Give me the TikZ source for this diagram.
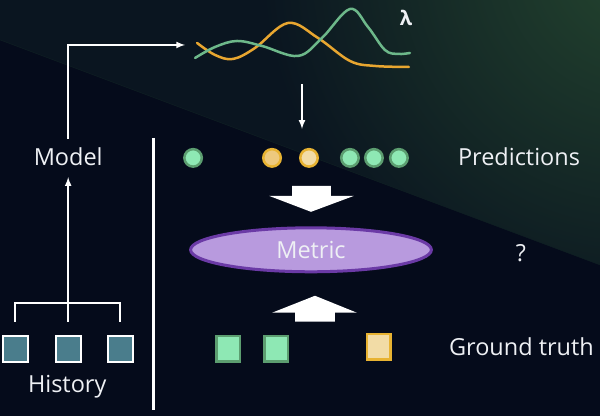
\documentclass[tikz,border=0pt]{standalone}
\usepackage{fontspec}
\setmainfont{Open Sans}
\usetikzlibrary{shapes.geometric}

\definecolor{bgnavy}{HTML}{050B1B}
\definecolor{bgmid}{HTML}{0A1520}
\definecolor{bggreen}{HTML}{24452F}
\definecolor{txt}{HTML}{EEF0F4}
\definecolor{dotgreen}{HTML}{8EE8B4}
\definecolor{dotgreenline}{HTML}{5C9E70}
\definecolor{dotyellow}{HTML}{EDC97E}
\definecolor{dotyellowlight}{HTML}{F2DCA6}
\definecolor{dotyellowline}{HTML}{E8B332}
\definecolor{metricfill}{HTML}{B89ADE}
\definecolor{metricline}{HTML}{6B3AA6}
\definecolor{histteal}{HTML}{4A7D8C}
\definecolor{curvegreen}{HTML}{6DB88A}
\definecolor{curveorange}{HTML}{E8A630}

\tikzset{
  txtlabel/.style={text=txt, font=\fontsize{23.5}{28}\selectfont, inner sep=3pt},
  wire/.style={draw=white, line width=2pt},
  pdot/.style={circle, draw=dotgreenline, fill=dotgreen, line width=2.5pt, minimum size=17.5pt, inner sep=0pt},
  ydot/.style={pdot, draw=dotyellowline, fill=dotyellow},
  gtbox/.style={rectangle, draw=dotgreenline, fill=dotgreen, line width=2.5pt, minimum width=23.5pt, minimum height=25.5pt, inner sep=0pt},
  histbox/.style={rectangle, draw=white, fill=histteal, line width=2pt, minimum width=25pt, minimum height=26pt, inner sep=0pt},
}

\begin{document}
\begin{tikzpicture}[x=1pt, y=-1pt, >=latex]
  % fond
  \fill[bgnavy] (0,0) rectangle (600,416);
  \begin{scope}
    \clip (0,0) -- (600,0) -- (600,265) -- (0,40) -- cycle;
    \fill[bgmid] (0,0) rectangle (600,265);
    \shade[inner color=bggreen, outer color=bgmid] (640,-40) circle (380);
  \end{scope}
  \draw[bgmid!80!bggreen, line width=0.5pt] (0,40) -- (600,265);
  \useasboundingbox (0,0) rectangle (600,416);

  % courbes d'intensite
  \draw[curveorange, line width=2.5pt, line cap=round] plot[smooth, tension=0.6] coordinates
    {(197,43) (215,55) (233,59) (255,48) (288,23) (318,38) (350,61) (375,66) (409,67)};
  \draw[curvegreen, line width=2.5pt, line cap=round] plot[smooth, tension=0.6] coordinates
    {(195,58) (215,47) (237,41) (262,46) (298,56) (322,38) (350,9) (368,27) (385,50) (398,54) (410,53)};
  \node[text=txt, font=\fontsize{20}{24}\selectfont\bfseries] (lambda) at (406,18) {λ};
  \coordinate (curvein) at (185,45);
  \coordinate (curveout) at (302,84);
  \coordinate (predtop) at (302,129);

  % separateur
  \draw[white, line width=3pt] (153,138) -- (153,410);

  % historique et modele
  \node[txtlabel] (model) at (68,157) {Model};
  \node[histbox] (h1) at (15,349) {};
  \node[histbox] (h2) at (68,349) {};
  \node[histbox] (h3) at (120,349) {};
  \node[txtlabel] (history) at (67,387) {History};
  \coordinate (fork) at (68,303);
  \draw[wire] ([yshift=13pt]h1.north) |- (fork) -| ([yshift=13pt]h3.north);
  \draw[wire, ->] ([yshift=13pt]h2.north) -- ([yshift=-8pt]model.south);
  \draw[wire, ->] ([yshift=6pt]model.north) |- (curvein);
  \draw[wire, ->] (curveout) -- (predtop);

  % predictions
  \node[pdot] (p1) at (193,158) {};
  \node[ydot] (p2) at (272,158) {};
  \node[ydot, fill=dotyellowlight] (p3) at (309,158) {};
  \node[pdot] (p4) at (350,158) {};
  \node[pdot] (p5) at (374,158) {};
  \node[pdot] (p6) at (399,158) {};
  \node[txtlabel, anchor=west] (predictions) at (455,157) {Predictions};

  % metrique
  \fill[white] (292,186) -- (331,186) -- (331,196) -- (354,196) -- (311,212) -- (269,196) -- (292,196) -- cycle;
  \node[txtlabel, ellipse, draw=metricline, fill=metricfill, line width=3pt, minimum width=241pt, minimum height=44pt] (metric) at (311,250) {Metric};
  \node[txtlabel] (question) at (521,253) {?};
  \fill[white] (315,296) -- (357,313) -- (335,313) -- (335,322) -- (295,322) -- (295,313) -- (272,313) -- cycle;

  % verite terrain
  \node[gtbox] (g1) at (228,349) {};
  \node[gtbox] (g2) at (276,349) {};
  \node[gtbox, draw=dotyellowline, fill=dotyellowlight] (g3) at (379,347) {};
  \node[txtlabel, anchor=west] (groundtruth) at (446,347) {Ground truth};
\end{tikzpicture}
\end{document}
